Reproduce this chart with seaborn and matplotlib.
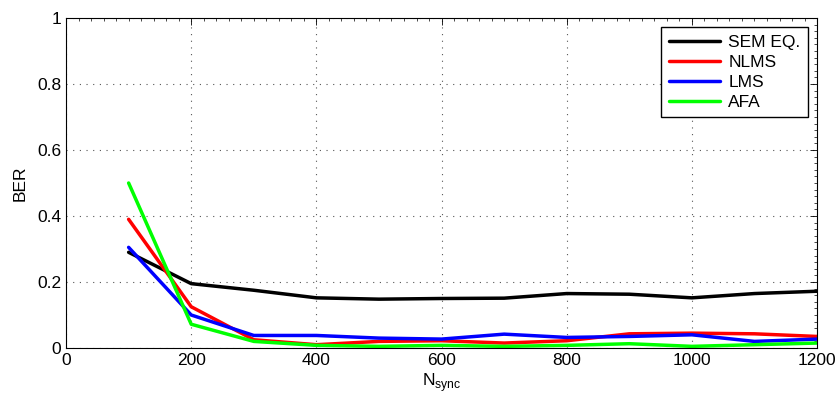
import matplotlib
matplotlib.use("Agg")
import matplotlib.pyplot as plt
import seaborn as sns
import pandas as pd
from matplotlib.ticker import MultipleLocator, FuncFormatter

n_sync = [100, 200, 300, 400, 500, 600, 700, 800, 900, 1000, 1100, 1200]
sem_eq = [0.290, 0.195, 0.175, 0.152, 0.148, 0.150, 0.151, 0.165, 0.163, 0.152, 0.165, 0.172]
nlms = [0.390, 0.125, 0.025, 0.010, 0.020, 0.022, 0.015, 0.022, 0.043, 0.045, 0.043, 0.035]
lms = [0.305, 0.100, 0.038, 0.038, 0.030, 0.027, 0.042, 0.032, 0.035, 0.040, 0.020, 0.027]
afa = [0.500, 0.072, 0.020, 0.008, 0.005, 0.008, 0.005, 0.008, 0.013, 0.005, 0.010, 0.015]
series_names = ["SEM EQ.", "NLMS", "LMS", "AFA"]

df = pd.DataFrame({"N": n_sync * 4,
                   "BER": sem_eq + nlms + lms + afa,
                   "method": sum([[s] * len(n_sync) for s in series_names], [])})

sns.set_style("white")
plt.rcParams['font.family'] = ['Liberation Sans', 'DejaVu Sans']
plt.rcParams['mathtext.fontset'] = 'custom'
plt.rcParams['mathtext.rm'] = 'Liberation Sans'
plt.rcParams['text.color'] = 'black'
plt.rcParams['axes.labelcolor'] = 'black'

FS = 12.5
fig = plt.figure(figsize=(8.37, 4.0), dpi=100)
ax = fig.add_axes([0.0789, 0.13, 0.8973, 0.825])
palette = {"SEM EQ.": "#000000", "NLMS": "#ff0000", "LMS": "#0000ff", "AFA": "#00ff00"}
sns.lineplot(data=df, x="N", y="BER", hue="method", palette=palette, linewidth=2.5, ax=ax)

ax.set_xlim(0, 1200)
ax.set_ylim(0, 1)
ax.xaxis.set_major_locator(MultipleLocator(200))
ax.xaxis.set_minor_locator(MultipleLocator(20))
ax.yaxis.set_major_locator(MultipleLocator(0.2))
ax.yaxis.set_minor_locator(MultipleLocator(0.02))
ax.yaxis.set_major_formatter(FuncFormatter(lambda v, p: "%g" % round(v, 2)))
ax.grid(True, which="major", linestyle=(0, (1, 5)), color="#555555", linewidth=0.8)
ax.tick_params(which="major", direction="in", length=5, labelsize=FS, width=0.6,
               colors="black", top=True, right=True)
ax.tick_params(which="minor", direction="in", length=2.5, width=0.5,
               colors="black", top=True, right=True)
for s in ax.spines.values():
    s.set_visible(True)
    s.set_color("black")
    s.set_linewidth(0.8)
ax.set_xlabel("N$_{\\mathregular{sync}}$", fontsize=FS, labelpad=2)
ax.set_ylabel("BER", fontsize=FS, labelpad=7)
leg = ax.legend(loc="upper right", fontsize=FS, frameon=True, fancybox=False,
                edgecolor="black", handlelength=2.9, borderaxespad=0.5,
                labelspacing=0.28, borderpad=0.45, handletextpad=0.5)
leg.get_frame().set_linewidth(1.0)
leg.get_frame().set_alpha(1)
fig.savefig("out.png", dpi=100)
